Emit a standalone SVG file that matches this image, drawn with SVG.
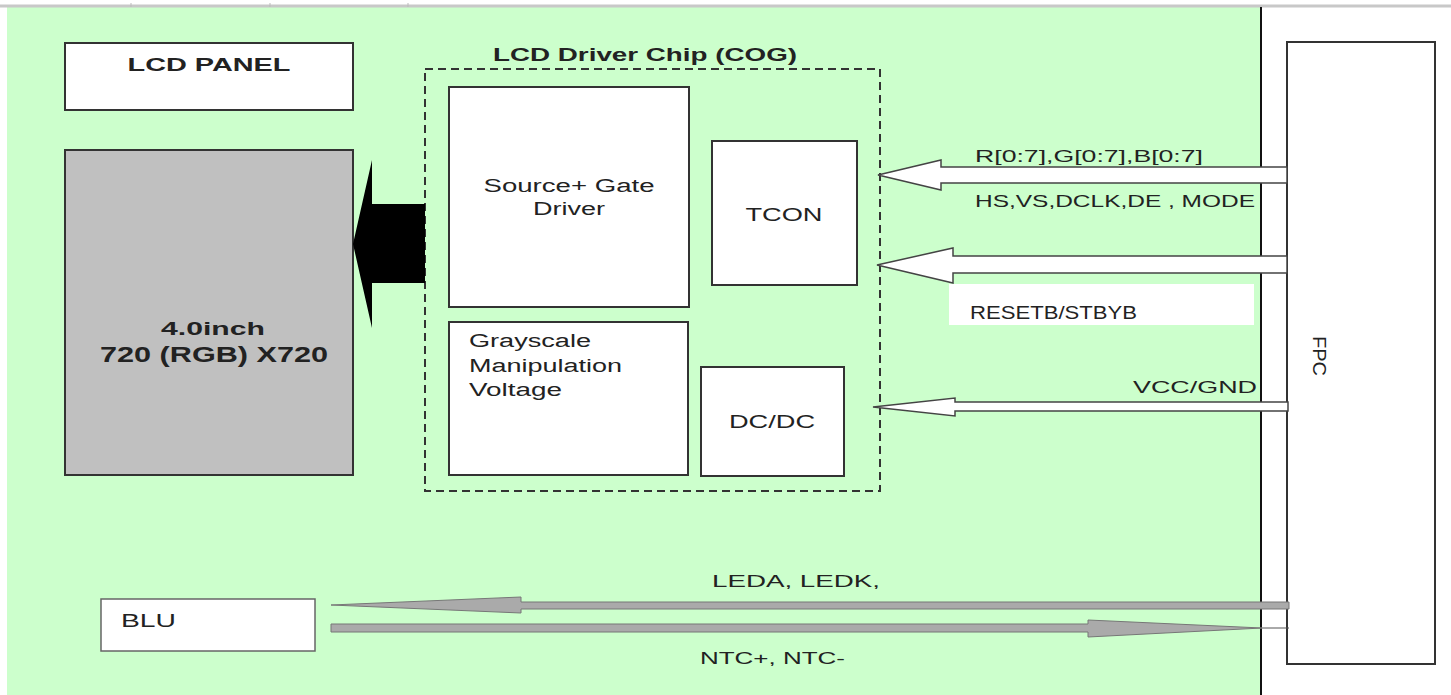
<svg xmlns="http://www.w3.org/2000/svg" width="1451" height="695" viewBox="0 0 1451 695">
<style>
.t{font-family:"Liberation Sans",Arial,sans-serif;fill:#222;}
.b{font-weight:bold;}
.box{fill:#fff;stroke:#333;stroke-width:2;}
.open{fill:#fff;stroke:#444;stroke-width:1.5;}
.gray{fill:#aaa;stroke:#777;stroke-width:1;}
</style>
<rect x="0" y="0" width="1451" height="695" fill="#fff"/>
<rect x="7" y="7" width="1254" height="688" fill="#CCFFCC"/>
<line x1="0" y1="6" x2="1451" y2="6" stroke="#c8c8c8" stroke-width="3"/>
<g stroke="#bbb" stroke-width="1">
<line x1="131" y1="3" x2="131" y2="7"/><line x1="270" y1="3" x2="270" y2="7"/><line x1="408" y1="3" x2="408" y2="7"/>
</g>
<line x1="1261" y1="7" x2="1261" y2="695" stroke="#111" stroke-width="2"/>

<g id="lcd-panel-label">
<rect class="box" x="65" y="43" width="288" height="67"/>
<text class="t b" x="209" y="71" font-size="19" text-anchor="middle" textLength="163" lengthAdjust="spacingAndGlyphs">LCD PANEL</text>
</g>
<g id="panel">
<rect x="65" y="150" width="288" height="325" fill="#C0C0C0" stroke="#333" stroke-width="2"/>
<text class="t b" x="213" y="335" font-size="19" text-anchor="middle" textLength="104" lengthAdjust="spacingAndGlyphs">4.0inch</text>
<text class="t b" x="214" y="362" font-size="22" text-anchor="middle" textLength="228" lengthAdjust="spacingAndGlyphs">720 (RGB) X720</text>
</g>
<g id="chip">
<rect x="425" y="69" width="455" height="422" fill="none" stroke="#333" stroke-width="2" stroke-dasharray="8,5"/>
<text class="t b" x="645" y="61" font-size="19" text-anchor="middle" textLength="304" lengthAdjust="spacingAndGlyphs">LCD Driver Chip (COG)</text>
</g>
<g id="source-gate-driver">
<rect class="box" x="449" y="87" width="240" height="220"/>
<text class="t" x="569" y="192" font-size="18" text-anchor="middle" textLength="171" lengthAdjust="spacingAndGlyphs">Source+ Gate</text>
<text class="t" x="569" y="215" font-size="18" text-anchor="middle" textLength="72" lengthAdjust="spacingAndGlyphs">Driver</text>
</g>
<g id="tcon">
<rect class="box" x="712" y="141" width="145" height="144"/>
<text class="t" x="784" y="221" font-size="18" text-anchor="middle" textLength="77" lengthAdjust="spacingAndGlyphs">TCON</text>
</g>
<g id="grayscale">
<rect class="box" x="449" y="322" width="239" height="153"/>
<text class="t" x="469" y="347" font-size="18" textLength="122" lengthAdjust="spacingAndGlyphs">Grayscale</text>
<text class="t" x="469" y="372" font-size="18" textLength="153" lengthAdjust="spacingAndGlyphs">Manipulation</text>
<text class="t" x="469" y="396" font-size="18" textLength="93" lengthAdjust="spacingAndGlyphs">Voltage</text>
</g>
<g id="dcdc">
<rect class="box" x="701" y="367" width="143" height="109"/>
<text class="t" x="772" y="428" font-size="18" text-anchor="middle" textLength="86" lengthAdjust="spacingAndGlyphs">DC/DC</text>
</g>
<g id="fpc">
<rect class="box" x="1287" y="42" width="148" height="622"/>
<text class="t" x="0" y="0" font-size="18" text-anchor="middle" textLength="40" lengthAdjust="spacingAndGlyphs" transform="translate(1313 356) rotate(90)">FPC</text>
</g>
<g id="blu">
<rect x="101" y="599" width="214" height="52" fill="#fff" stroke="#666" stroke-width="1.5"/>
<text class="t" x="121" y="627" font-size="18" textLength="55" lengthAdjust="spacingAndGlyphs">BLU</text>
</g>
<g id="connectors">
<polygon points="353,244 372,160 372,204 425,204 425,283 372,283 372,328" fill="#000"/>
<polygon class="open" points="878,175 941,160 941,167 1287,167 1287,183 941,183 941,190"/>
<polygon class="open" points="877,265 953,248 953,256 1287,256 1287,273 953,273 953,283"/>
<polygon class="open" points="873,407 955,398 955,402 1288,402 1288,411 955,411 955,416"/>
<polygon class="gray" points="331,605 521,597 521,602 1289,602 1289,609 521,609 521,613"/>
<polygon class="gray" points="331,624 1088,624 1088,620 1262,628 1088,637 1088,632 331,632"/>
<line x1="1262" y1="628" x2="1289" y2="628" stroke="#555" stroke-width="1"/>
</g>
<g id="labels">
<text class="t" x="975" y="162" font-size="17" textLength="228" lengthAdjust="spacingAndGlyphs">R[0:7],G[0:7],B[0:7]</text>
<text class="t" x="975" y="207" font-size="17" textLength="280" lengthAdjust="spacingAndGlyphs">HS,VS,DCLK,DE , MODE</text>
<rect x="949" y="284" width="305" height="41" fill="#fff"/>
<text class="t" x="970" y="319" font-size="19" textLength="167" lengthAdjust="spacingAndGlyphs">RESETB/STBYB</text>
<text class="t" x="1133" y="393" font-size="17" textLength="124" lengthAdjust="spacingAndGlyphs">VCC/GND</text>
<text class="t" x="712" y="587" font-size="17" textLength="168" lengthAdjust="spacingAndGlyphs">LEDA, LEDK,</text>
<text class="t" x="700" y="664" font-size="17" textLength="145" lengthAdjust="spacingAndGlyphs">NTC+, NTC-</text>
</g>
</svg>
